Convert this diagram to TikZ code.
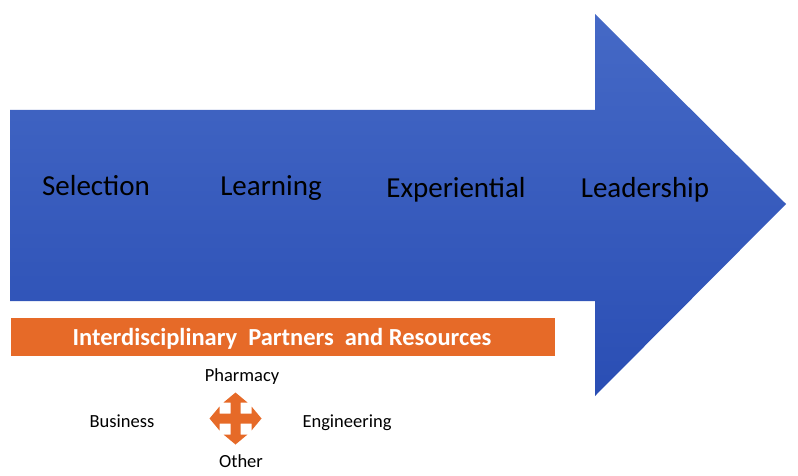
\documentclass[tikz,border=0pt]{standalone}
\usepackage{fontspec}
\setmainfont{Carlito}
\usetikzlibrary{positioning}
\definecolor{arrowtop}{HTML}{4569C6}
\definecolor{arrowbot}{HTML}{2A4EB4}
\definecolor{bandorange}{HTML}{E66A28}
\tikzset{stage/.style = {font=\fontsize{29}{33}\selectfont, anchor=base, inner sep=0}}
\tikzset{field/.style = {font=\fontsize{18.5}{21}\selectfont, anchor=base, inner sep=0}}

\begin{document}
\begin{tikzpicture}[x=1pt, y=1pt]
      \useasboundingbox (0,0) rectangle (798,-476);
      % big arrow
      \shade[top color=arrowtop, bottom color=arrowbot]
        (10,-110) -- (595,-110) -- (595,-14) -- (786,-204)
        -- (595,-396) -- (595,-301) -- (10,-301) -- cycle;

      \node[stage] (sel) at (96,-195) {Selection};
      \node[stage] (lea) at (271,-195) {Learning};
      \node[stage] (exp) at (456,-197) {Experiential};
      \node[stage] (ldr) at (645,-197) {Leadership};

      % partners band
      \fill[bandorange] (11,-318) rectangle (555,-356);
      \node[font=\bfseries\fontsize{24.5}{28}\selectfont, text=white, anchor=base, inner sep=0]
        (band) at (282,-345) {Interdisciplinary\ \ Partners\ \ and Resources};

      % four-way arrow
      \fill[bandorange, shift={(235.5,-418.5)}]
        (0,26) -- (12,16) -- (5,16) -- (5,5) -- (16,5) -- (16,12)
        -- (26,0) -- (16,-12) -- (16,-5) -- (5,-5) -- (5,-16)
        -- (12,-16) -- (0,-26) -- (-12,-16) -- (-5,-16) -- (-5,-5)
        -- (-16,-5) -- (-16,-12) -- (-26,0) -- (-16,12) -- (-16,5)
        -- (-5,5) -- (-5,16) -- (-12,16) -- cycle;
      \coordinate (hub) at (235.5,-418.5);

      \node[field] (pha) at (242,-381) {Pharmacy};
      \node[field] (bus) at (122,-427) {Business};
      \node[field] (eng) at (347,-427) {Engineering};
      \node[field] (oth) at (241,-467) {Other};
\end{tikzpicture}
\end{document}
